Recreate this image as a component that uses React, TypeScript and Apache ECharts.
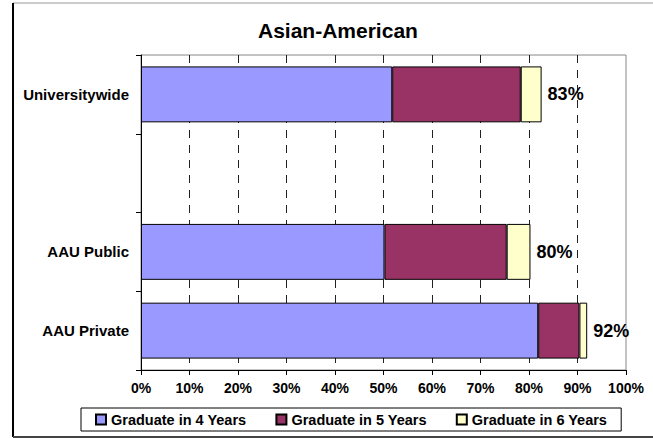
import React, { useEffect, useRef } from "react";
import * as echarts from "echarts";

const categories = ["AAU Private", "AAU Public", "", "Universitywide"];
const grad4 = [81.9, 50.2, null, 51.8];
const grad5 = [8.5, 25.2, null, 26.5];
const grad6 = [1.6, 4.9, null, 4.3];
const seriesNames = ["Graduate in 4 Years", "Graduate in 5 Years", "Graduate in 6 Years"];
const colors = ["#9999FF", "#993366", "#FFFFCC"];

const FONT = "'Liberation Sans', Arial, sans-serif";

export default function App() {
  const ref = useRef<HTMLDivElement>(null);
  useEffect(() => {
    if (!ref.current) return;
    const chart = echarts.init(ref.current, undefined, { renderer: "svg" });
    const total = (i: number) =>
      Math.round((grad4[i] || 0) + (grad5[i] || 0) + (grad6[i] || 0));
    const datasets = [grad4, grad5, grad6];
    chart.setOption({
      animation: false,
      backgroundColor: "#fff",
      title: {
        text: "Asian-American",
        left: 258,
        top: 20,
        padding: 0,
        textStyle: { fontFamily: FONT, fontSize: 21, fontWeight: "bold", color: "#000" },
      },
      graphic: [
        { type: "line", shape: { x1: 13, y1: 3, x2: 653, y2: 3 }, style: { stroke: "#999", lineWidth: 1 } },
        { type: "line", shape: { x1: 13, y1: 3, x2: 13, y2: 437 }, style: { stroke: "#000", lineWidth: 2 } },
        { type: "line", shape: { x1: 13, y1: 437, x2: 653, y2: 437 }, style: { stroke: "#444", lineWidth: 2 } },
      ],
      legend: {
        left: 81,
        top: 408,
        padding: [4, 14, 4, 14],
        itemGap: 29,
        itemWidth: 10,
        itemHeight: 10,
        borderColor: "#000",
        borderWidth: 1,
        icon: "rect",
        textStyle: { fontFamily: FONT, fontSize: 14.5, fontWeight: "bold", color: "#000" },
        data: seriesNames,
      },
      grid: {
        left: 141,
        right: 27,
        top: 55,
        bottom: 68,
        show: true,
        borderColor: "#888",
        borderWidth: 1,
        backgroundColor: "transparent",
      },
      xAxis: {
        type: "value",
        min: 0,
        max: 100,
        interval: 10,
        axisLine: { show: true, lineStyle: { color: "#000", width: 1 } },
        axisTick: { show: true, length: 5, lineStyle: { color: "#000" } },
        axisLabel: {
          formatter: "{value}%",
          margin: 11,
          fontFamily: FONT,
          fontSize: 14,
          fontWeight: "bold",
          color: "#000",
        },
        splitLine: {
          show: true,
          showMinLine: false,
          showMaxLine: false,
          lineStyle: { type: [8, 7], color: "#222", width: 1 },
        },
      },
      yAxis: {
        type: "category",
        data: categories,
        axisLine: { show: true, lineStyle: { color: "#000", width: 1 } },
        axisTick: { show: true, length: 5, lineStyle: { color: "#000" } },
        axisLabel: {
          margin: 12,
          fontFamily: FONT,
          fontSize: 15,
          fontWeight: "bold",
          color: "#000",
        },
        splitLine: { show: false },
      },
      series: datasets.map((d, k) => ({
        name: seriesNames[k],
        type: "bar",
        stack: "total",
        data: d,
        barCategoryGap: "29%",
        itemStyle: { color: colors[k], borderColor: "#000", borderWidth: 1 },
        label:
          k === 2
            ? {
                show: true,
                position: "right",
                distance: 6,
                fontFamily: FONT,
                fontSize: 18,
                fontWeight: "bold",
                color: "#000",
                formatter: (p: any) => `${total(p.dataIndex)}%`,
              }
            : { show: false },
      })),
    });
    return () => chart.dispose();
  }, []);
  return (
    <div
      ref={ref}
      style={{ position: "fixed", left: 0, top: 0, width: 653, height: 438 }}
    />
  );
}
